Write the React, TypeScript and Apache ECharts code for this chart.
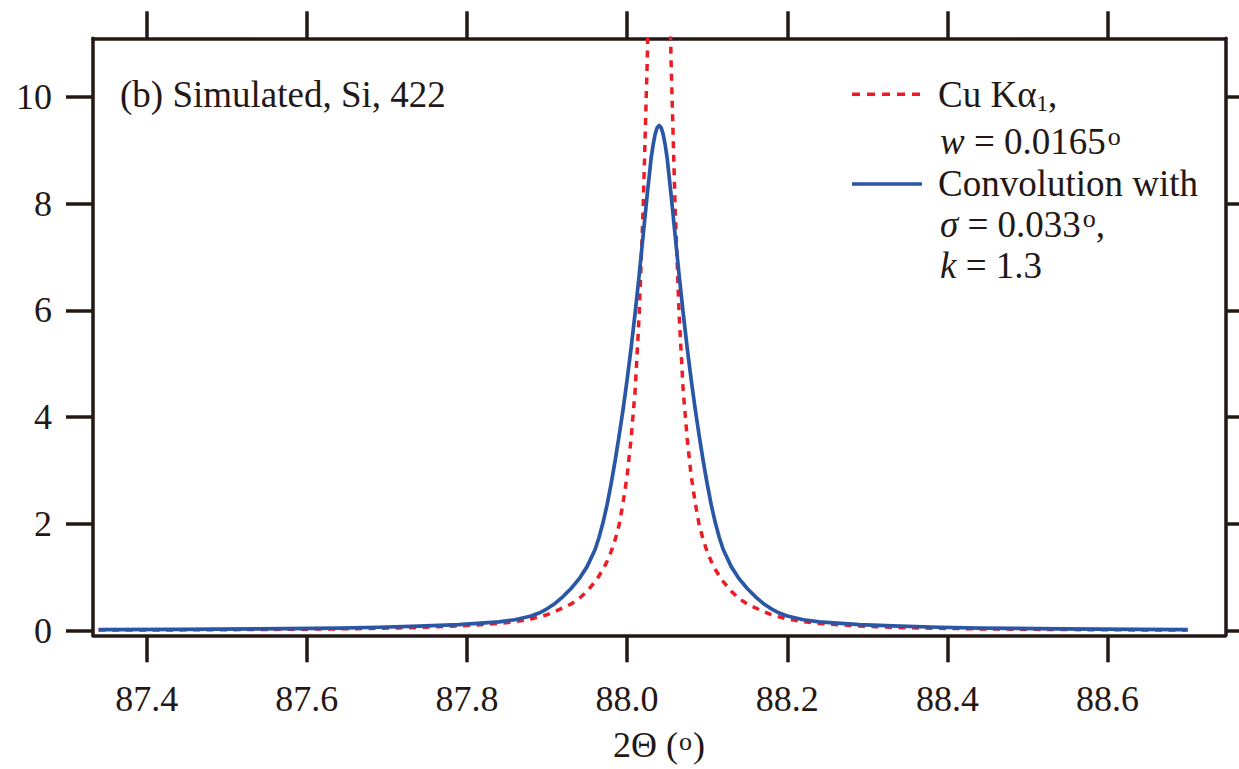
import React, { useEffect, useRef } from "react";
import * as echarts from "echarts";

// 2Θ positions (degrees) at which the curves were read
const twoTheta = [
  87.34, 87.44, 87.54, 87.64, 87.69, 87.74, 87.79, 87.84, 87.86, 87.88,
  87.89, 87.9, 87.91, 87.92, 87.93, 87.94, 87.95, 87.96, 87.965, 87.97,
  87.975, 87.98, 87.985, 87.99, 87.995, 88.0, 88.005, 88.01, 88.015, 88.02,
  88.025, 88.03, 88.0325, 88.035, 88.0375, 88.04, 88.0425, 88.045, 88.0475, 88.05,
  88.055, 88.06, 88.065, 88.07, 88.075, 88.08, 88.085, 88.09, 88.095, 88.1,
  88.105, 88.11, 88.115, 88.12, 88.13, 88.14, 88.15, 88.16, 88.17, 88.18,
  88.19, 88.2, 88.22, 88.24, 88.29, 88.34, 88.39, 88.44, 88.54, 88.64,
  88.7,
];

// Cu Kα1, w = 0.0165° (dashed red)
const cuKa1 = [
  0.011, 0.015, 0.022, 0.034, 0.045, 0.06, 0.088, 0.135, 0.17, 0.22,
  0.26, 0.3, 0.36, 0.43, 0.5, 0.6, 0.74, 0.92, 1.03, 1.15,
  1.3, 1.48, 1.7, 1.98, 2.4, 2.9, 3.6, 4.5, 5.9, 7.9,
  10.6, 14.1, 16.0, 17.7, 18.9, 19.3, 18.9, 17.7, 16.0, 14.1,
  10.6, 7.9, 5.9, 4.5, 3.6, 2.9, 2.4, 1.98, 1.7, 1.48,
  1.3, 1.15, 1.03, 0.92, 0.74, 0.6, 0.5, 0.43, 0.36, 0.3,
  0.26, 0.22, 0.17, 0.135, 0.088, 0.06, 0.045, 0.034, 0.022, 0.015,
  0.012,
];

// Convolution with σ = 0.033°, k = 1.3 (solid blue)
const convolution = [
  0.02, 0.025, 0.035, 0.05, 0.065, 0.085, 0.115, 0.165, 0.205, 0.275,
  0.33, 0.41, 0.51, 0.64, 0.79, 0.97, 1.2, 1.52, 1.75, 2.03,
  2.36, 2.75, 3.18, 3.65, 4.15, 4.7, 5.3, 5.95, 6.65, 7.4,
  8.15, 8.85, 9.1, 9.3, 9.42, 9.46, 9.42, 9.3, 9.1, 8.85,
  8.15, 7.4, 6.65, 5.95, 5.3, 4.7, 4.15, 3.65, 3.18, 2.75,
  2.36, 2.03, 1.75, 1.52, 1.2, 0.97, 0.79, 0.64, 0.51, 0.41,
  0.33, 0.275, 0.205, 0.165, 0.115, 0.085, 0.065, 0.05, 0.035, 0.025,
  0.022,
];

const xTicks = [87.4, 87.6, 87.8, 88.0, 88.2, 88.4, 88.6];
const yTicks = [0, 2, 4, 6, 8, 10];

const INK = "#231815";
const RED = "#ec1c24";
const BLUE = "#2a56a6";
const FAM = "Liberation Serif";
const F37 = `37px ${FAM}`;
const F36 = `36px ${FAM}`;
const I37 = `italic 37px ${FAM}`;
const SUP = `26px ${FAM}`;
const SUB = `23px ${FAM}`;

export default function App() {
  const ref = useRef<HTMLDivElement>(null);

  useEffect(() => {
    const chart = echarts.init(ref.current!, null, { renderer: "svg" });

    const axisLine = { show: true, onZero: false, lineStyle: { color: INK, width: 3.5 } };
    const tick = (vals: number[]) => ({
      show: true,
      inside: false,
      length: 27,
      customValues: vals,
      lineStyle: { color: INK, width: 3.5 },
    });
    const label = {
      color: INK,
      fontFamily: FAM,
      fontSize: 36,
    };

    const xMin = 87.333;
    const xMax = 88.747;
    const yMin = -0.086;
    const yMax = 11.094;

    const textStyle = (text: string, extra: any = {}) => ({
      text,
      fill: INK,
      font: F37,
      align: "left",
      verticalAlign: "middle",
      ...extra,
    });

    chart.setOption({
      animation: false,
      backgroundColor: "#ffffff",
      textStyle: { fontFamily: FAM },
      grid: {
        left: 93,
        right: 13.7,
        top: 38.3,
        bottom: 133.7,
        outerBoundsMode: "none",
        containLabel: false,
      },
      xAxis: [
        {
          type: "value",
          position: "bottom",
          min: xMin,
          max: xMax,
          axisLine,
          axisTick: tick(xTicks),
          splitLine: { show: false },
          axisLabel: {
            ...label,
            customValues: xTicks,
            margin: 64,
            verticalAlign: "middle",
            formatter: (v: number) => v.toFixed(1),
          },
        },
        {
          type: "value",
          position: "top",
          min: xMin,
          max: xMax,
          axisLine,
          axisTick: tick(xTicks),
          splitLine: { show: false },
          axisLabel: { show: false },
        },
      ],
      yAxis: [
        {
          type: "value",
          position: "left",
          min: yMin,
          max: yMax,
          axisLine,
          axisTick: tick(yTicks),
          splitLine: { show: false },
          axisLabel: {
            ...label,
            customValues: yTicks,
            margin: 41,
            formatter: (v: number) => String(Math.round(v)),
          },
        },
        {
          type: "value",
          position: "right",
          min: yMin,
          max: yMax,
          axisLine,
          axisTick: tick(yTicks),
          splitLine: { show: false },
          axisLabel: { show: false },
        },
      ],
      series: [
        {
          name: "Cu Kα1",
          type: "line",
          xAxisIndex: 0,
          yAxisIndex: 0,
          showSymbol: false,
          clip: true,
          data: twoTheta.map((x, i) => [x, cuKa1[i]]),
          lineStyle: { color: RED, width: 3.5, type: [7, 6.5] },
          z: 2,
        },
        {
          name: "Convolution",
          type: "line",
          xAxisIndex: 0,
          yAxisIndex: 0,
          showSymbol: false,
          smooth: false,
          clip: true,
          data: twoTheta.map((x, i) => [x, convolution[i]]),
          lineStyle: { color: BLUE, width: 3.7, join: "round" },
          z: 3,
        },
      ],
      graphic: [
        { type: "text", x: 120, y: 94.8, style: textStyle("(b) Simulated, Si, 422") },
        {
          type: "line",
          shape: { x1: 852, y1: 94.3, x2: 920, y2: 94.3 },
          style: { stroke: RED, lineWidth: 3.5, lineDash: [8, 7] },
        },
        {
          type: "text",
          x: 938,
          y: 94.2,
          style: textStyle("Cu Kα{sub|1},", {
            rich: { sub: { font: SUB, verticalAlign: "top", padding: [19, 0, 0, 0] } },
          }),
        },
        {
          type: "text",
          x: 940,
          y: 141.5,
          style: textStyle("{i|w} = 0.0165{sup|o}", {
            rich: {
              i: { font: I37 },
              sup: { font: SUP, verticalAlign: "top", padding: [0, 0, 0, 2] },
            },
          }),
        },
        {
          type: "line",
          shape: { x1: 852, y1: 184, x2: 922, y2: 184 },
          style: { stroke: BLUE, lineWidth: 3.7 },
        },
        { type: "text", x: 938, y: 183.5, style: textStyle("Convolution with") },
        {
          type: "text",
          x: 940,
          y: 224.2,
          style: textStyle("{i|σ} = 0.033{sup|o},", {
            rich: {
              i: { font: I37 },
              sup: { font: SUP, verticalAlign: "top", padding: [0, 0, 0, 2] },
            },
          }),
        },
        {
          type: "text",
          x: 940,
          y: 265.8,
          style: textStyle("{i|k} = 1.3", { rich: { i: { font: I37 } } }),
        },
        {
          type: "text",
          x: 659,
          y: 745,
          style: textStyle("2Θ ({sup|o})", {
            font: F36,
            align: "center",
            rich: { sup: { font: SUP, verticalAlign: "top", padding: [1, 1, 0, 1] } },
          }),
        },
      ],
    });

    return () => chart.dispose();
  }, []);

  return (
    <div
      ref={ref}
      style={{
        position: "fixed",
        left: 0,
        top: 0,
        width: 1239,
        height: 769,
        background: "#ffffff",
      }}
    />
  );
}
